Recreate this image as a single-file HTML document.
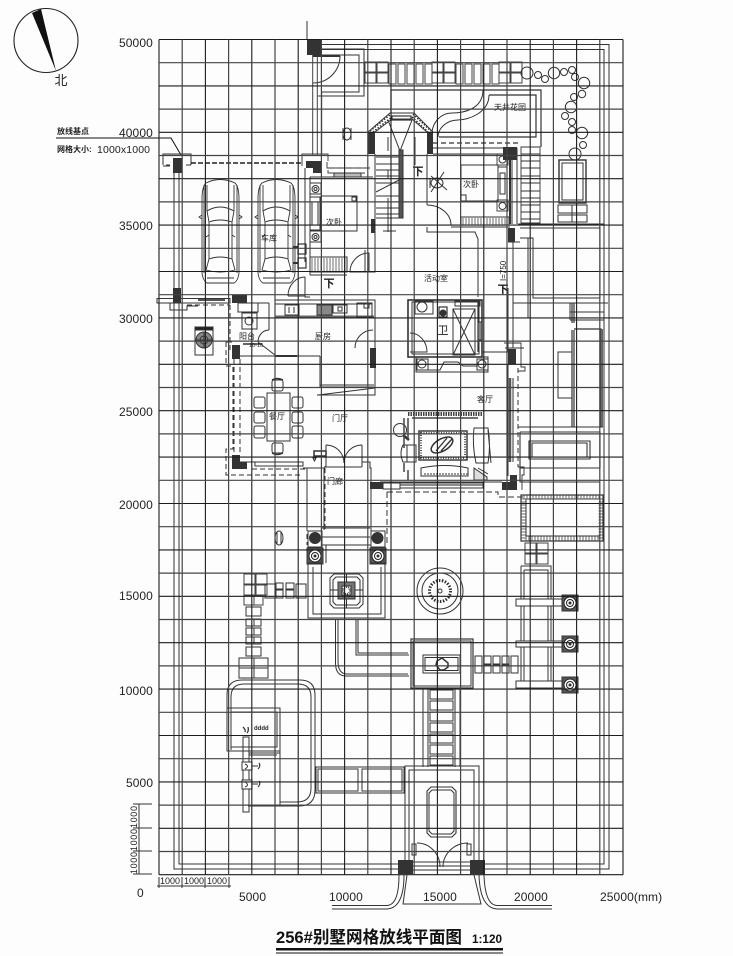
<!DOCTYPE html>
<html><head><meta charset="utf-8"><style>
html,body{margin:0;padding:0;background:#fdfdfd}
svg{display:block;filter:blur(.3px)}
text{font-family:"Liberation Sans","Noto Sans CJK SC",sans-serif;fill:#222;stroke:none}
.n{font-size:12px;letter-spacing:.1px}
.c{font-size:8px;text-anchor:middle}
</style></head><body>
<svg width="733" height="956" viewBox="0 0 733 956" xmlns="http://www.w3.org/2000/svg">
<rect width="733" height="956" fill="#fdfdfd"/>
<defs>
<g id="car" fill="none" stroke="#333" stroke-width=".9">
<path d="M4,6Q18,-1 33,6Q37,10 37,22V96Q36,104 32,106H5Q1,104 0,96V22Q0,10 4,6Z"/>
<path d="M5,34Q18,26 32,34L30,45Q18,41 7,45Z"/>
<path d="M7,45V82M30,45V82M2,8V96M35,8V96"/>
<path d="M7,82Q18,78 30,82L33,93Q18,97 4,93Z"/>
<path d="M0,38L-3,40L0,42M37,38L40,40L37,42M5,8L5,34M32,8L32,34M5,101H32M4,60L7,58M33,60L30,58"/>
</g>
<g id="col"><rect x="0" y="0" width="16" height="16" fill="#555"/><circle cx="8" cy="8" r="6" fill="#fff" stroke="#222"/><circle cx="8" cy="8" r="3.5" fill="none" stroke="#222"/><circle cx="8" cy="8" r="1" fill="#222"/></g>
<g id="pave4" fill="none" stroke="#444"><rect x="0" y="0" width="11" height="10"/><rect x="12" y="0" width="11" height="10"/><rect x="0" y="11" width="11" height="10"/><rect x="12" y="11" width="11" height="10"/></g>
<g id="row5" fill="none" stroke="#444"><rect x="0" y="0" width="7" height="20"/><rect x="9" y="0" width="7" height="20"/><rect x="18" y="0" width="7" height="20"/><rect x="27" y="0" width="7" height="20"/><rect x="36" y="0" width="7" height="20"/></g>
</defs>

<!-- north -->
<circle cx="46" cy="40.5" r="32" fill="none" stroke="#222" stroke-width="1.1"/>
<polygon points="32,13 41,9 56,71" fill="#111"/>
<text x="61" y="85" style="font-size:13px;text-anchor:middle">北</text>

<!-- axis labels -->
<g class="n">
<text class="n" x="119" y="47">50000</text>
<text class="n" x="119" y="137">40000</text>
<text class="n" x="119" y="230">35000</text>
<text class="n" x="119" y="323">30000</text>
<text class="n" x="119" y="416">25000</text>
<text class="n" x="119" y="509">20000</text>
<text class="n" x="119" y="600">15000</text>
<text class="n" x="119" y="695">10000</text>
<text class="n" x="126" y="787">5000</text>
<text class="n" x="137" y="897">0</text>
<text class="n" x="239" y="901">5000</text>
<text class="n" x="329" y="901">10000</text>
<text class="n" x="423" y="901">15000</text>
<text class="n" x="514" y="901">20000</text>
<text class="n" x="600" y="901">25000(mm)</text>
</g>
<text x="57" y="134" style="font-size:8px;font-weight:bold">放线基点</text>
<text x="57" y="152" style="font-size:8px;font-weight:bold">网格大小:</text>
<text x="97" y="153" style="font-size:10.5px" textLength="53">1000x1000</text>
<path d="M56,138H171L181,155" fill="none" stroke="#111" stroke-width="1"/>

<g fill="none" stroke="#333" stroke-width="1">
<!-- site boundary -->
<path d="M174,172V869H399M179,172V864H399M482,869H609V44.5H322M482,864H604V49.5H322"/>
<path d="M312.7,55V155M317.3,55V155M321.7,92V155" stroke="#444"/>
<path d="M322,55H359V92H322M322,49H364V96H318"/>
<path d="M313,83A27,27 0 0 0 340,56"/><path d="M313,56H340" stroke-width="2"/>
<path d="M307,21Q307,30 307,40"/>

<!-- left top bracket -->
<path d="M163,165V154H191V165M166,165H170M186,165H191M163,166H170"/>
<path d="M191,163H302" stroke="#222" stroke-width="1.6" stroke-dasharray="5 2"/>
<path d="M302,166V154H328V161M327,162V168H365M328,170V173H365" stroke="#444"/>
<path d="M328,168H373" stroke-dasharray="6 3"/>
<path d="M334,173H361V177H334Z" fill="#bbb"/>

<!-- garage -->
<path d="M310,177V275M305,168V262M310,177H373M310,275H347"/>
<path d="M288,296A17,19 0 0 1 305,277M288,296H305M305,277V297H310"/>
<path d="M157,298.5H230V303H157Z"/>
<path d="M198,300H225" stroke="#555" stroke-width="2"/>
<path d="M170,303V310H187V306H198"/>
<path d="M187,305H230" stroke-dasharray="5 3"/>
<path d="M230,305V350" stroke-dasharray="5 3"/>

<!-- bedroom left -->
<rect x="321" y="196" width="36" height="35"/><rect x="352" y="197" width="4" height="4"/>
<rect x="310" y="197" width="10" height="33"/><rect x="312" y="202" width="6" height="23"/>
<rect x="310" y="183" width="11" height="11"/><circle cx="315.5" cy="189" r="3.5"/><circle cx="315.5" cy="189" r="1.5"/>
<rect x="310" y="231" width="11" height="11"/><circle cx="315.5" cy="237" r="3.5"/><circle cx="315.5" cy="237" r="1.5"/>
<rect x="310" y="257" width="37" height="15"/>
<path d="M312,258V271M315,258V271M318,258V271M321,258V271M324,258V271M327,258V271M330,258V271M333,258V271M336,258V271M339,258V271M342,258V271M345,258V271" stroke-width=".7"/>
<path d="M350,272A19,19 0 0 1 369,253V272Z"/>
<rect x="298" y="244" width="8" height="10" stroke-width="1.2"/><rect x="298" y="258" width="8" height="10" stroke-width="1.2"/>
<path d="M293,247H298M293,263H298" stroke-width="2"/>

<!-- paving top -->
<use href="#pave4" x="365" y="62"/><use href="#row5" x="389" y="64"/>
<use href="#pave4" x="432" y="62"/><use href="#row5" x="456" y="64"/>
<use href="#pave4" x="499" y="62"/>

<!-- shrubs -->
<circle cx="527" cy="73" r="6"/><circle cx="538" cy="75" r="3.5"/><circle cx="545" cy="79" r="3.5"/><circle cx="554" cy="73" r="5.7"/><circle cx="564" cy="72" r="3.5"/><circle cx="572" cy="70" r="3.5"/><circle cx="575" cy="77" r="3.5"/><circle cx="584" cy="83" r="5.7"/><circle cx="582" cy="94" r="3.7"/><circle cx="574" cy="97" r="3.5"/><circle cx="571" cy="107" r="5.7"/><circle cx="565" cy="116" r="3.5"/><circle cx="572" cy="122" r="3.5"/><circle cx="572" cy="130" r="3.5"/><circle cx="582" cy="133" r="5.7"/><circle cx="583" cy="145" r="3.5"/><circle cx="575" cy="154" r="6"/>
<!-- small building NE -->
<rect x="559" y="160" width="27" height="43" stroke-width="1.4"/><rect x="562" y="163" width="21" height="37"/>
<path d="M558,205H587V213H558ZM558,215H587V222H558ZM572,205V222"/>

<!-- courtyard -->
<path d="M391,113V90H541V147M439,137H536V95H489" stroke-width="1.2"/>
<path d="M483,90C483,110 462,113 452,113C440,113 433,123 432,132"/>
<path d="M489,95C489,113 468,120 458,120C447,120 438,128 438,137"/>
<!-- bay window -->
<path d="M368,132L390,113H414L433,132M375,132L392,119H412L427,132"/>
<path d="M370,131L391,114M373,132L392,117M413,114L431,131M412,117L428,132" stroke-width="1.6" stroke-dasharray="1.5 1.5"/>
<rect x="392" y="116" width="19" height="4" stroke-width="1.2"/>
<path d="M388,120L400,151L412,120M388,137V151M415,137V165"/>
<!-- stairs -->
<path d="M376,157H399M376,164H399M376,170H399M376,176H399M376,183H399M376,196H399M376,202H399M376,208H399M376,214H399M376,218H399"/>
<path d="M376,192L399,180M388,170V178M388,198V232M383,231H396"/>
<rect x="399" y="150" width="4" height="68" fill="#555"/>
<path d="M375,154V272H365M365,250V272"/>
<!-- bedroom right -->
<path d="M433,154H503M433,148H503"/>
<path d="M433,143H518" stroke-dasharray="5 3" stroke-width="1.3"/>
<path d="M427,154V205M427,205A24,20 0 0 1 451,225M427,227V232H475L478,239V297"/>
<path d="M451,227H510"/>
<path d="M507,160V224M512,150V224M517,148V224"/><path d="M510,160V224" stroke-width="2"/>
<rect x="461" y="165" width="37" height="36"/><rect x="461" y="195" width="5" height="6"/>
<rect x="498" y="167" width="9" height="33"/><rect x="500" y="173" width="5" height="21"/>
<rect x="497" y="154" width="11" height="11" stroke-width=".9"/><circle cx="502.5" cy="159.500" r="3.500"/>
<rect x="497" y="200" width="11" height="11" stroke-width=".9"/><circle cx="502.500" cy="206" r="3.500"/>
<rect x="461" y="217" width="48" height="8"/>
<path d="M463,218V225M466,218V225M469,218V225M472,218V225M475,218V225M478,218V225M481,218V225M484,218V225M487,218V225M490,218V225M493,218V225M496,218V225M499,218V225M502,218V225M505,218V225" stroke-width=".7"/>
<path d="M521,147H540V223H521ZM521,154H540M521,161H540M521,168H540M521,176H540M521,183H540M521,191H540M521,198H540M521,205H540M521,212H540M521,219H540" stroke-width=".9"/>
<ellipse cx="437" cy="183" rx="6" ry="5"/><path d="M431,176L447,190M431,192L444,172M430,178V188"/>
<!-- right upper -->
<path d="M518,224H604M520,228H600V298H533V238H520M508,242H520"/>
<path d="M513,242V348M528,238V318M513,303H570V320M570,303H608M570,312H604M570,320H604"/>
<path d="M572,303V323M574,303V323M572,330V427M574,330V427M574,329H601V427" stroke-width="1.2"/>
<path d="M602,329V427" stroke="#666" stroke-width="2"/>
<rect x="558" y="352" width="14" height="46"/>
<path d="M482,300V352H508V288M513,303V343"/>
<path d="M478,300V352M478,323H482M478,340H482" stroke-width="1.2"/>
<!-- bathroom -->
<rect x="408" y="300" width="74" height="57" stroke-width="1.6"/>
<rect x="412" y="302" width="67" height="52"/>
<rect x="415" y="301" width="18" height="13"/><circle cx="422" cy="307" r="5"/>
<rect x="439" y="307" width="8" height="10" stroke-width="1.2"/><circle cx="443" cy="313" r="3" fill="#333"/>
<path d="M455,301H480V306H455Z"/>
<rect x="453" y="309" width="22" height="46"/><path d="M453,309L475,355M475,309L453,355"/>
<path d="M410,333A17,19 0 0 1 427,352H410"/>
<path d="M478,322H482V340H478Z" fill="#888"/>
<rect x="416" y="357" width="72" height="15"/>
<rect x="417" y="359" width="11" height="11"/><circle cx="422" cy="364" r="4"/>
<rect x="477" y="359" width="11" height="11"/><circle cx="482" cy="364" r="4"/>
<path d="M428,370H440L444,362H458L463,366H477"/>
<!-- right wall -->
<path d="M508,364V476M513,378V462M505,348H524"/>
<path d="M510,378V462" stroke="#555" stroke-width="2.500"/>
<path d="M518,368V467" stroke-dasharray="5 3"/>
<path d="M504,343H521V367H525V371H518M518,467H524V475H522V490" stroke-width=".9"/>
<path d="M380,482H502M400,483H483V488H400Z"/>
<path d="M400,485H483" stroke="#666" stroke-width="1.500"/>
<path d="M387,492H498V497H523" stroke-dasharray="6 3"/>
<path d="M387,492V545" stroke-dasharray="6 3"/>
<!-- living -->
<rect x="419" y="431" width="48" height="29" stroke-width="1.400"/>
<rect x="421" y="433" width="44" height="25" stroke="#555" stroke-width="2" stroke-dasharray="1 1.500"/>
<ellipse cx="442" cy="445" rx="12" ry="6" transform="rotate(-30 442 445)" stroke-width="1.500"/>
<path d="M436,451L447,438M441,451L452,439" stroke-width="1.300"/>
<path d="M474,428H488Q491,445 488,463H476Q472,445 474,428ZM488,430L491,463"/>
<path d="M421,468Q445,463 468,468V476H421Z"/><path d="M424,474H468" stroke-dasharray="2 1"/>
<path d="M403,445H416V462H403Q399,453 403,445ZM407,445V462"/>
<circle cx="400" cy="430" r="6.500"/><path d="M403,435L409,440" stroke-width="2.500"/>
<path d="M408,414H482" stroke="#444" stroke-width="4" stroke-dasharray="1.500 1"/>
<path d="M404,418V448M408,418V440M412,418H478M404,463V472M408,470V480" stroke="#444" stroke-width="1.500"/>
<path d="M474,468L487,477V480H474ZM478,468L488,474" fill="#ddd"/>
<!-- east side -->
<path d="M518,427H603M520,432H600V468H520V432M529,441H590V459H529ZM532,443H587V457H532ZM520,468V482H600" stroke-width="1.100"/>
<rect x="521" y="495" width="82" height="46" stroke-width="1.200"/>
<rect x="526" y="499" width="74" height="37"/>
<rect x="523.500" y="497.500" width="77" height="41" stroke-width="4" stroke-dasharray="1 2" stroke="#666"/>
<use href="#pave4" x="525" y="543"/>

<!-- kitchen -->
<path d="M275,303V356M269,303V330M238,303H269M275,300H375V395M372,304H275"/>
<path d="M275,317H374" stroke="#666" stroke-width="3"/>
<rect x="285" y="305" width="14" height="10"/><path d="M289,307V313M294,307V313"/>
<rect x="317" y="305" width="15" height="10" fill="#888"/>
<rect x="333" y="305" width="14" height="8"/><rect x="338" y="307" width="4" height="4"/>
<rect x="357" y="303" width="15" height="14"/><rect x="364" y="303" width="5" height="5"/>
<path d="M355,348A18,18 0 0 1 373,330"/>
<path d="M320,356V387H374M317,395H375V388M320,385H374"/>
<path d="M240,356H275M275,356H297M297,356H320M258,342L275,355M258,342A11,12 0 0 1 269,330"/>
<path d="M275,356H297" stroke-width="2"/>
<path d="M318,395L375,388"/>
<rect x="242" y="313" width="15" height="16"/><rect x="238" y="303" width="20" height="9"/><circle cx="249" cy="321" r="4"/>
<path d="M243,344H262" stroke-width="1.600"/>
<!-- west wall of dining -->
<path d="M234,359V453M240,359V455M226,342V366H233V449H226V475H300" stroke-dasharray="5 3"/>
<path d="M240,462H303M255,462H303V466H255ZM303,468H325V466"/>
<path d="M252,469H307V545" stroke-dasharray="5 3"/>
<path d="M226,342H232"/>
<!-- dining -->
<rect x="267" y="393" width="23" height="48"/>
<rect x="272" y="380" width="11" height="11" rx="2"/><path d="M272,380Q277,377 283,380" stroke-width="1.400"/>
<rect x="272" y="443" width="11" height="10" rx="2"/><path d="M272,453Q277,456 283,453" stroke-width="1.400"/>
<rect x="254" y="397" width="11" height="11" rx="2"/><rect x="254" y="412" width="11" height="11" rx="2"/><rect x="254" y="426" width="11" height="12" rx="2"/>
<rect x="292" y="397" width="11" height="11" rx="2"/><rect x="292" y="412" width="11" height="11" rx="2"/><rect x="292" y="426" width="11" height="12" rx="2"/>
<rect x="195" y="327" width="18" height="28"/><rect x="195" y="327" width="18" height="3" fill="#222"/>
<circle cx="204" cy="340" r="8" fill="#888"/><circle cx="204" cy="340" r="4"/><path d="M196,340H212M204,332V348"/>
<!-- entrance -->
<path d="M326,445V467M362,445V467M326,445A18,18 0 0 1 344,463M362,445A18,18 0 0 0 344,463M326,467H362"/>
<rect x="314" y="451" width="12" height="5" stroke-width="1.500"/>
<path d="M313,458H316L314.500,461Z"/>
<path d="M362,462H370V468H371V531M307,468V531M324,468V530"/>
<path d="M325,468V530" stroke-dasharray="5 3"/>
<path d="M322,528H370M322,537H370M322,545H371M326,545V563M371,549V563"/>
<rect x="308" y="531" width="14" height="16"/><rect x="371" y="531" width="14" height="16"/>
<circle cx="315" cy="538" r="5.500" fill="#333"/><circle cx="377.500" cy="538" r="5.500" fill="#333"/>
<use href="#col" x="307" y="548"/><use href="#col" x="370" y="548"/>
<rect x="383" y="483" width="17" height="6"/>
<ellipse cx="279" cy="538" rx="4" ry="7"/><path d="M277,532V544M281,532V544"/>
<ellipse cx="347" cy="134" rx="4" ry="6"/><path d="M343,128V140M351,128V140"/>

<!-- pavilion -->
<path d="M308,563V618H385V563H371M322,563H308M313,567V614H381V567"/>
<path d="M334,574H359L363,578V604L359,608H334L330,604V578Z"/>
<path d="M336,577H357L360,580V602L357,605H336L333,602V580Z"/>
<rect x="338" y="582" width="17" height="17" fill="#777"/><rect x="342" y="586" width="9" height="9" fill="#fff"/><circle cx="346.500" cy="590.500" r="3.500" stroke-width="2" stroke-dasharray="1 1"/>
<path d="M330,590H338M355,590H363M346.500,574V582M346.500,599V608"/>
<!-- fountain -->
<circle cx="440" cy="591" r="23"/><circle cx="440" cy="591" r="18"/>
<circle cx="440" cy="591" r="10.500" stroke-width="3" stroke-dasharray="1.500 1.500"/><circle cx="440" cy="591" r="2"/>
<!-- paving west -->
<use href="#pave4" x="244" y="574"/>
<path d="M244,596H263V605H244ZM254,596V605" stroke="#444"/>
<rect x="265" y="584" width="10" height="14"/><rect x="276" y="583" width="7" height="6"/><rect x="276" y="590" width="7" height="8"/><rect x="286" y="583" width="8" height="6"/><rect x="286" y="590" width="8" height="8"/><rect x="296" y="584" width="10" height="14"/>
<rect x="246" y="607" width="15" height="9"/><path d="M246,619H261V626H246ZM254,619V626M246,628H261V635H246ZM254,628V635M246,637H261V644H246ZM254,637V644"/><rect x="246" y="647" width="15" height="9"/>
<path d="M239,658H268V678H239ZM254,658V678M239,668H268"/>
<!-- path from pavilion -->
<path d="M335.500,620V663Q335.500,676 346,676H409M338,620V661Q338,674 347,674H408M356,620V655H409M358,620V653H408"/>
<!-- center pavilion -->
<rect x="411" y="639" width="62" height="49" stroke-width="1.200"/><rect x="413" y="641" width="58" height="45"/>
<rect x="423" y="655" width="37" height="18"/><rect x="425" y="657.500" width="33" height="13"/>
<path d="M437,661L442,658L448,663V667L444,670L440,670L436,665Z" stroke-width="1.500"/>
<rect x="475" y="656" width="7" height="17"/><path d="M484,656H491V664H484ZM484,665H491V673H484ZM493,656H500V664H493ZM493,665H500V673H493ZM502,656H509V664H502ZM502,665H509V673H502Z"/><rect x="511" y="656" width="7" height="17"/>
<!-- steps path -->
<path d="M423,688V767M428,688V767M455,688V767M460,688V767"/>
<path d="M430,690H453V699H430ZM430,701H453V710H430ZM430,712H453V721H430ZM430,723H453V732H430ZM430,734H453V743H430ZM430,745H453V754H430ZM430,756H453V765H430Z"/>
<!-- pergola -->
<path d="M521,566H551V682M521,566V682M524,570H548V682M524,570V682"/>
<rect x="516" y="599" width="47" height="7" fill="#fff"/><rect x="516" y="641" width="47" height="6" fill="#fff"/><rect x="516" y="681" width="47" height="7" fill="#fff"/>
<use href="#col" x="562" y="595"/><use href="#col" x="562" y="636"/><use href="#col" x="562" y="677"/>
<!-- pool -->
<path d="M227,750V695Q227,680 242,680H300Q315,680 315,695V790Q315,806 299,806H280M231,750V697Q231,684 244,684H298Q311,684 311,697V788Q311,802 297,802H280"/>
<rect x="227" y="708" width="53" height="43"/><rect x="231" y="712" width="46" height="35"/>
<path d="M248,751H280V806H248"/>
<path d="M249,753H280M249,755H277"/>
<rect x="243" y="737" width="6" height="75"/>
<rect x="242" y="762" width="10" height="8" fill="#fff"/><rect x="242" y="780" width="10" height="9" fill="#fff"/>
<path d="M252,766H258M252,784H258M245,764Q250,766 245,769M245,782Q250,785 245,787"/>
<text x="254" y="730" style="font-size:6px;font-weight:bold">dddd</text>
<path d="M243,727Q246,730 245,732M248,727Q249,731 247,733" stroke-width="1.300"/>
<path d="M259,763Q261,766 258,769M259,781Q261,784 258,787" stroke-width="1.200"/>
<!-- benches -->
<rect x="316" y="767" width="88" height="26"/>
<rect x="318" y="769" width="40" height="22"/><rect x="362" y="769" width="40" height="22"/>
<!-- entry court -->
<path d="M405,860V766H479V860M409,860V770H474V860"/>
<path d="M431,787H452L456,791V833L452,837H431L427,833V791Z" stroke-width="1.100"/>
<path d="M432,790H451L454,793V831L451,834H432L429,831V793Z"/>
<path d="M417,843A23,24 0 0 1 440,867M468,843A25,24 0 0 0 443,867"/>
<rect x="412" y="844" width="4" height="11"/><rect x="467" y="844" width="4" height="11"/>
<path d="M413,862H470M413,866H470M413,870H470"/>
<path d="M407,875L403,904H481L474,875"/>
<path d="M332,905.500H387Q399,905 399,875M332,909H387Q404,908 404,875M552,905.500H497Q485,905 484,875M552,909H497Q480,908 479,875"/>
<!-- dims -->
<path d="M139,804V874M133,804H152M133,828H152M133,851H152M133,874H152"/>
<path d="M159,877V888M182,877V888M205,877V888M229,877V888M157,886H231"/>
</g>

<!-- dark posts -->
<g fill="#333">
<rect x="307" y="40" width="15" height="15"/>
<rect x="173" y="158" width="9" height="15"/>
<polygon points="306,161 322,161 322,173 313,173 313,168 306,168"/>
<rect x="173" y="288" width="8" height="15"/>
<rect x="232" y="295" width="15" height="8"/>
<rect x="368" y="132" width="7" height="22"/>
<rect x="427" y="132" width="6" height="22"/>
<rect x="503" y="147" width="14" height="13"/>
<rect x="371" y="219" width="4" height="14"/>
<rect x="508" y="228" width="7" height="14"/>
<rect x="508" y="349" width="8" height="15"/>
<polygon points="502,482 510,482 510,475 517,475 517,490 502,490"/>
<rect x="370" y="348" width="6" height="20"/>
<rect x="232" y="345" width="8" height="14"/>
<polygon points="232,455 240,455 240,462 247,462 247,469 232,469"/>
<rect x="370" y="482" width="13" height="7"/>
<rect x="398" y="860" width="15" height="14"/>
<rect x="470" y="860" width="15" height="14"/>
</g>

<use href="#car" x="202" y="177"/>
<use href="#car" x="258" y="177"/>

<!-- room labels -->
<text class="c" x="269" y="241">车库</text>
<text class="c" x="334" y="225">次卧</text>
<text class="c" x="471" y="187">次卧</text>
<text class="c" x="510" y="110">天井花园</text>
<text class="c" x="436" y="281">活动室</text>
<text class="c" x="443" y="334" style="font-size:11px">卫</text>
<text class="c" x="485" y="402">客厅</text>
<text class="c" x="323" y="339">厨房</text>
<text class="c" x="247" y="339">阳台</text>
<text class="c" x="277" y="419">餐厅</text>
<text class="c" x="340" y="421">门厅</text>
<text class="c" x="335" y="484">门廊</text>
<text x="329" y="287" style="font-size:11px;text-anchor:middle;font-weight:bold">下</text>
<text x="418" y="175" style="font-size:11px;text-anchor:middle;font-weight:bold">下</text>
<text x="503" y="293" style="font-size:11px;text-anchor:middle;font-weight:bold">下</text>
<text x="0" y="0" transform="translate(506,281) rotate(-90)" style="font-size:8px">I=750</text>
<text x="249" y="347" style="font-size:5.500px">10-10</text>
<text x="0" y="0" transform="translate(137,851) rotate(-90)" style="font-size:9px" textLength="22">1000</text>
<text x="0" y="0" transform="translate(137,828) rotate(-90)" style="font-size:9px" textLength="22">1000</text>
<text x="0" y="0" transform="translate(137,874) rotate(-90)" style="font-size:9px" textLength="22">1000</text>
<text x="160" y="884" style="font-size:9px" textLength="20">1000</text>
<text x="184" y="884" style="font-size:9px" textLength="20">1000</text>
<text x="207" y="884" style="font-size:9px" textLength="20">1000</text>

<!-- grid -->
<path fill="none" stroke="#1c1c1c" stroke-width="1.100" d="M159,39.500V874.700M205.400,39.500V874.700M251.800,39.500V874.700M298.200,39.500V874.700M344.600,39.500V874.700M391,39.500V874.700M437.400,39.500V874.700M483.800,39.500V874.700M530.200,39.500V874.700M576.600,39.500V874.700M623,39.500V874.700M159,39.500H623M159,85.900H623M159,132.300H623M159,178.700H623M159,225.100H623M159,271.500H623M159,317.900H623M159,364.300H623M159,410.700H623M159,457.100H623M159,503.500H623M159,549.900H623M159,596.300H623M159,642.700H623M159,689.100H623M159,735.500H623M159,781.900H623M159,828.300H623M159,874.700H623"/>
<path fill="none" stroke="#444" stroke-width="1.200" d="M182.200,39.500V874.700M228.600,39.500V874.700M275,39.500V874.700M321.400,39.500V874.700M367.800,39.500V874.700M414.200,39.500V874.700M460.600,39.500V874.700M507,39.500V874.700M553.400,39.500V874.700M599.800,39.500V874.700M159,62.700H623M159,109.100H623M159,155.500H623M159,201.900H623M159,248.300H623M159,294.700H623M159,341.100H623M159,387.500H623M159,433.900H623M159,480.300H623M159,526.700H623M159,573.100H623M159,619.500H623M159,665.900H623M159,712.300H623M159,758.700H623M159,805.100H623M159,851.500H623"/>

<!-- title -->
<text x="276" y="943" style="font-size:17px;font-weight:bold;fill:#111" textLength="186" lengthAdjust="spacingAndGlyphs">256#别墅网格放线平面图</text>
<text x="472" y="943" style="font-size:12px;font-weight:bold;fill:#111" textLength="30" lengthAdjust="spacingAndGlyphs">1:120</text>
<rect x="276" y="948" width="227" height="2.500" fill="#111"/>
<rect x="276" y="952.500" width="227" height="1" fill="#111"/>
</svg>
</body></html>
